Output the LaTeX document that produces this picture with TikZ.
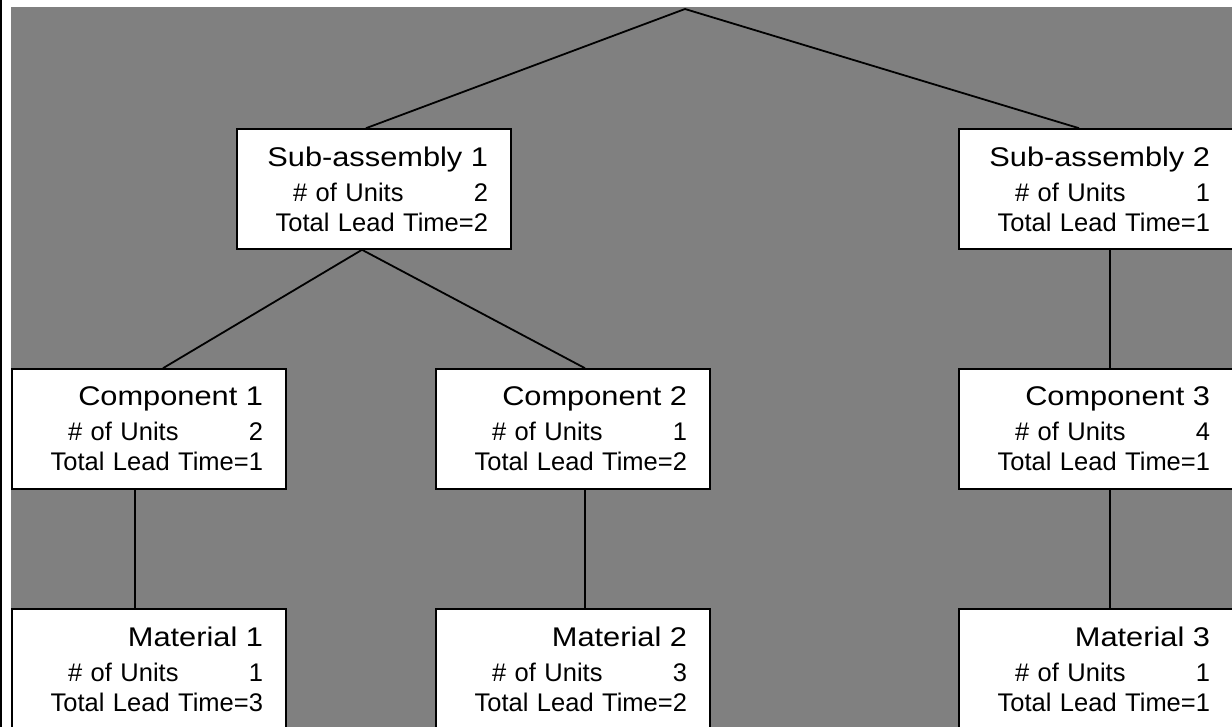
\documentclass[tikz,border=0pt]{standalone}
\usepackage{fontspec}
\setmainfont{Liberation Sans}
\newfontfamily\headfont[FakeStretch=1.14]{Liberation Sans}
\definecolor{bggray}{HTML}{808080}
\def\partinfo#1#2#3{{\headfont\fontsize{27}{30}\selectfont #1}\\[5pt]
    \makebox[195pt]{\# of Units\hfill #2}\\
    Total Lead Time=#3}

\begin{document}
\begin{tikzpicture}[x=1pt,y=-1pt,
        partbox/.style={draw,line width=1.6pt,fill=white,minimum width=274pt,minimum height=120pt,
            text width=228pt,inner xsep=23pt,inner ysep=0pt,align=right,
            font=\fontsize{25.5}{30}\selectfont},
        link/.style={line width=1.8pt}]
                \useasboundingbox (0,0) rectangle (1232,727);
                \clip (0,0) rectangle (1232,727);
                \fill[white] (0,0) rectangle (1232,727);
                \fill[bggray] (11,7) rectangle (1232,727);
                \draw[line width=2pt] (1,0) -- (1,727);
                \coordinate (top) at (685,9);
                \node[partbox] (sub1) at (374,189) {\partinfo{Sub-assembly 1}{2}{2}};
                \node[partbox] (sub2) at (1096,189) {\partinfo{Sub-assembly 2}{1}{1}};
                \node[partbox] (comp1) at (149,429) {\partinfo{Component 1}{2}{1}};
                \node[partbox] (comp2) at (573,429) {\partinfo{Component 2}{1}{2}};
                \node[partbox] (comp3) at (1096,429) {\partinfo{Component 3}{4}{1}};
                \node[partbox] (mat1) at (149,669) {\partinfo{Material 1}{1}{3}};
                \node[partbox] (mat2) at (573,669) {\partinfo{Material 2}{3}{2}};
                \node[partbox] (mat3) at (1096,669) {\partinfo{Material 3}{1}{1}};
                \draw[link] (top) -- ([xshift=-8pt]sub1.north);
                \draw[link] (top) -- ([xshift=-17pt]sub2.north);
                \draw[link] ([xshift=-12pt]sub1.south) -- ([xshift=14pt]comp1.north);
                \draw[link] ([xshift=-12pt]sub1.south) -- ([xshift=12pt]comp2.north);
                \draw[link] ([xshift=14pt]sub2.south) -- ([xshift=14pt]comp3.north);
                \draw[link] ([xshift=-14pt]comp1.south) -- ([xshift=-14pt]mat1.north);
                \draw[link] ([xshift=12pt]comp2.south) -- ([xshift=12pt]mat2.north);
                \draw[link] ([xshift=14pt]comp3.south) -- ([xshift=14pt]mat3.north);
            \end{tikzpicture}
\end{document}
